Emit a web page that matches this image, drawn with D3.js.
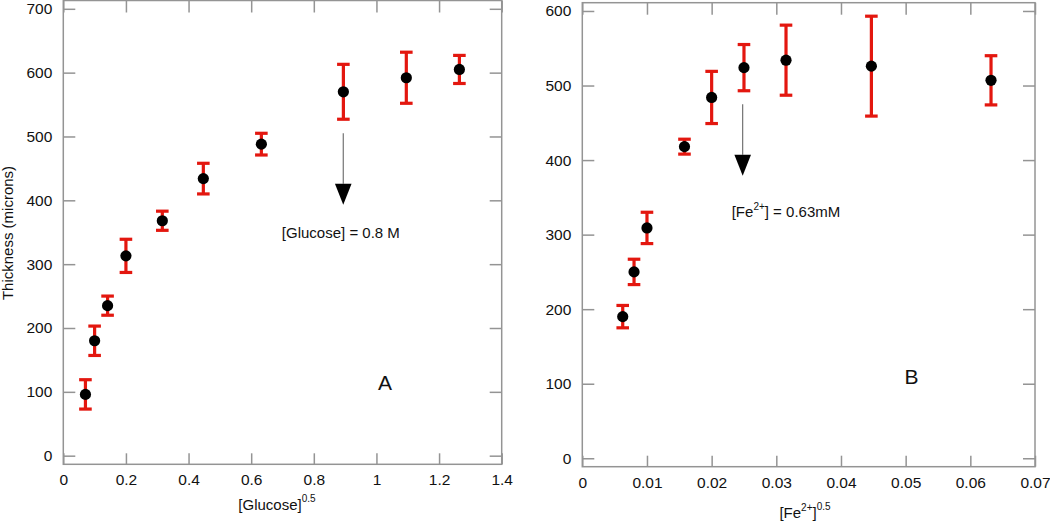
<!DOCTYPE html>
<html>
<head>
<meta charset="utf-8">
<script src="https://cdn.jsdelivr.net/npm/d3@7"></script>
<style>
  html, body { margin: 0; padding: 0; background: #fff; }
  svg { display: block; font-family: "Liberation Sans", Arial, sans-serif; }
</style>
</head>
<body>
<svg id="chart" width="1050" height="529"></svg>
<script>
// ---------- Data ----------
// Panel A: thickness vs [Glucose]^0.5
const glucoseX = [0.0707, 0.1, 0.1414, 0.2, 0.3162, 0.4472, 0.6325, 0.8944, 1.0954, 1.2649];
const glucoseY = [96, 180, 235, 313, 368, 434, 488, 570, 592, 605];
const glucoseErr = [23, 23, 15, 26, 15, 24, 17, 43, 40, 22];
const glucoseXTicks = [0, 0.2, 0.4, 0.6, 0.8, 1, 1.2, 1.4];
const glucoseYTicks = [0, 100, 200, 300, 400, 500, 600, 700];

// Panel B: thickness vs [Fe2+]^0.5
const ironX = [0.00625, 0.008, 0.01, 0.0158, 0.02, 0.025, 0.0315, 0.0447, 0.0632];
const ironY = [190, 250, 309, 418, 484, 524, 534, 526, 507];
const ironErr = [15, 17, 21, 10, 35, 31, 47, 67, 33];
const ironXTicks = [0, 0.01, 0.02, 0.03, 0.04, 0.05, 0.06, 0.07];
const ironYTicks = [0, 100, 200, 300, 400, 500, 600];

// Annotations (data units)
const arrowA = { x: 0.894, from: 505, to: 393 };
const arrowB = { x: 0.0248, from: 475, to: 379 };
const noteA = { x: 0.698, y: 341, text: "[Glucose] = 0.8 M" };
const noteB = { x: 0.0231, y: 324 };
const labelA = { x: 1.027, y: 103, text: "A" };
const labelB = { x: 0.0509, y: 100, text: "B" };

// ---------- Drawing ----------
const svg = d3.select("#chart");
const RED = "#e3170f";
const GRAY = "#949494";
const TEXT = "#111";

function panel(cfg) {
  const g = svg.append("g");
  const x = d3.scaleLinear().domain(cfg.xDomain).range([cfg.left, cfg.right]);
  const y = d3.scaleLinear().domain(cfg.yDomain).range([cfg.bottom, cfg.top]);

  // frame
  g.append("rect")
    .attr("x", cfg.left).attr("y", cfg.top)
    .attr("width", cfg.right - cfg.left).attr("height", cfg.bottom - cfg.top)
    .attr("fill", "none").attr("stroke", GRAY).attr("stroke-width", 1.5);

  const styleAxis = sel => {
    sel.select(".domain").remove();
    sel.selectAll(".tick line").attr("stroke", GRAY).attr("stroke-width", 1.5);
    sel.selectAll(".tick text").attr("fill", TEXT).style("font-size", "15.5px")
      .style("font-family", "'Liberation Sans', Arial, sans-serif");
  };

  g.append("g").attr("transform", `translate(0,${cfg.bottom})`)
    .call(d3.axisBottom(x).tickValues(cfg.xTicks).tickFormat(d3.format("~g"))
      .tickSizeInner(-11).tickSizeOuter(0).tickPadding(10))
    .call(styleAxis);
  g.append("g").attr("transform", `translate(0,${cfg.top})`)
    .call(d3.axisTop(x).tickValues(cfg.xTicks).tickFormat("")
      .tickSizeInner(-12).tickSizeOuter(0))
    .call(styleAxis);
  g.append("g").attr("transform", `translate(${cfg.left},0)`)
    .call(d3.axisLeft(y).tickValues(cfg.yTicks).tickFormat(d3.format("d"))
      .tickSizeInner(-12).tickSizeOuter(0).tickPadding(11))
    .call(styleAxis);
  g.append("g").attr("transform", `translate(${cfg.right},0)`)
    .call(d3.axisRight(y).tickValues(cfg.yTicks).tickFormat("")
      .tickSizeInner(-12).tickSizeOuter(0))
    .call(styleAxis);

  // error bars
  const data = cfg.xs.map((v, i) => ({ x: v, y: cfg.ys[i], e: cfg.errs[i] }));
  const cap = 6.3;
  const eb = g.append("g").attr("stroke", RED).attr("stroke-width", 3.2).attr("fill", "none");
  eb.selectAll("line.v").data(data).join("line").attr("class", "v")
    .attr("x1", d => x(d.x)).attr("x2", d => x(d.x))
    .attr("y1", d => y(d.y - d.e)).attr("y2", d => y(d.y + d.e));
  eb.selectAll("line.t").data(data).join("line").attr("class", "t")
    .attr("x1", d => x(d.x) - cap).attr("x2", d => x(d.x) + cap)
    .attr("y1", d => y(d.y + d.e)).attr("y2", d => y(d.y + d.e));
  eb.selectAll("line.b").data(data).join("line").attr("class", "b")
    .attr("x1", d => x(d.x) - cap).attr("x2", d => x(d.x) + cap)
    .attr("y1", d => y(d.y - d.e)).attr("y2", d => y(d.y - d.e));

  // points
  g.append("g").selectAll("circle").data(data).join("circle")
    .attr("cx", d => x(d.x)).attr("cy", d => y(d.y)).attr("r", 5.6).attr("fill", "#000");

  // arrow
  const a = cfg.arrow;
  const ax = x(a.x), ty = y(a.to), hh = 21;
  g.append("line").attr("x1", ax).attr("x2", ax).attr("y1", y(a.from)).attr("y2", ty - hh)
    .attr("stroke", "#666").attr("stroke-width", 1.1);
  g.append("path").attr("d", `M${ax - 8.3},${ty - hh}L${ax + 8.3},${ty - hh}L${ax},${ty}Z`).attr("fill", "#000");

  // panel letter
  g.append("text").attr("x", x(cfg.letter.x)).attr("y", y(cfg.letter.y))
    .attr("text-anchor", "middle").attr("fill", TEXT).style("font-size", "21px").text(cfg.letter.text);

  return { g, x, y };
}

const A = panel({
  left: 63.3, right: 501.7, top: 0.5, bottom: 464.3,
  xDomain: [0, 1.4], yDomain: [-13.5, 713],
  xTicks: glucoseXTicks, yTicks: glucoseYTicks,
  xs: glucoseX, ys: glucoseY, errs: glucoseErr,
  arrow: arrowA, letter: labelA
});
const B = panel({
  left: 582.3, right: 1035, top: 2.7, bottom: 466.7,
  xDomain: [0, 0.07], yDomain: [-11.3, 611.1],
  xTicks: ironXTicks, yTicks: ironYTicks,
  xs: ironX, ys: ironY, errs: ironErr,
  arrow: arrowB, letter: labelB
});

// note texts
A.g.append("text").attr("x", A.x(noteA.x)).attr("y", A.y(noteA.y))
  .attr("fill", TEXT).style("font-size", "15px").text(noteA.text);

const nb = B.g.append("text").attr("x", B.x(noteB.x)).attr("y", B.y(noteB.y))
  .attr("fill", TEXT).style("font-size", "15px");
nb.append("tspan").text("[Fe");
nb.append("tspan").attr("dy", -7).style("font-size", "10px").text("2+");
nb.append("tspan").attr("dy", 7).text("] = 0.63mM");

// axis titles
svg.append("text")
  .attr("transform", `translate(13,233) rotate(-90)`)
  .attr("text-anchor", "middle").attr("fill", TEXT).style("font-size", "15px")
  .text("Thickness (microns)");

const xtA = svg.append("text").attr("x", 277).attr("y", 510)
  .attr("text-anchor", "middle").attr("fill", TEXT).style("font-size", "15px");
xtA.append("tspan").text("[Glucose]");
xtA.append("tspan").attr("dy", -8).style("font-size", "10px").text("0.5");

const xtB = svg.append("text").attr("x", 805).attr("y", 518)
  .attr("text-anchor", "middle").attr("fill", TEXT).style("font-size", "15px");
xtB.append("tspan").text("[Fe");
xtB.append("tspan").attr("dy", -7).style("font-size", "10px").text("2+");
xtB.append("tspan").attr("dy", 7).text("]");
xtB.append("tspan").attr("dy", -8).style("font-size", "10px").text("0.5");
</script>
</body>
</html>
